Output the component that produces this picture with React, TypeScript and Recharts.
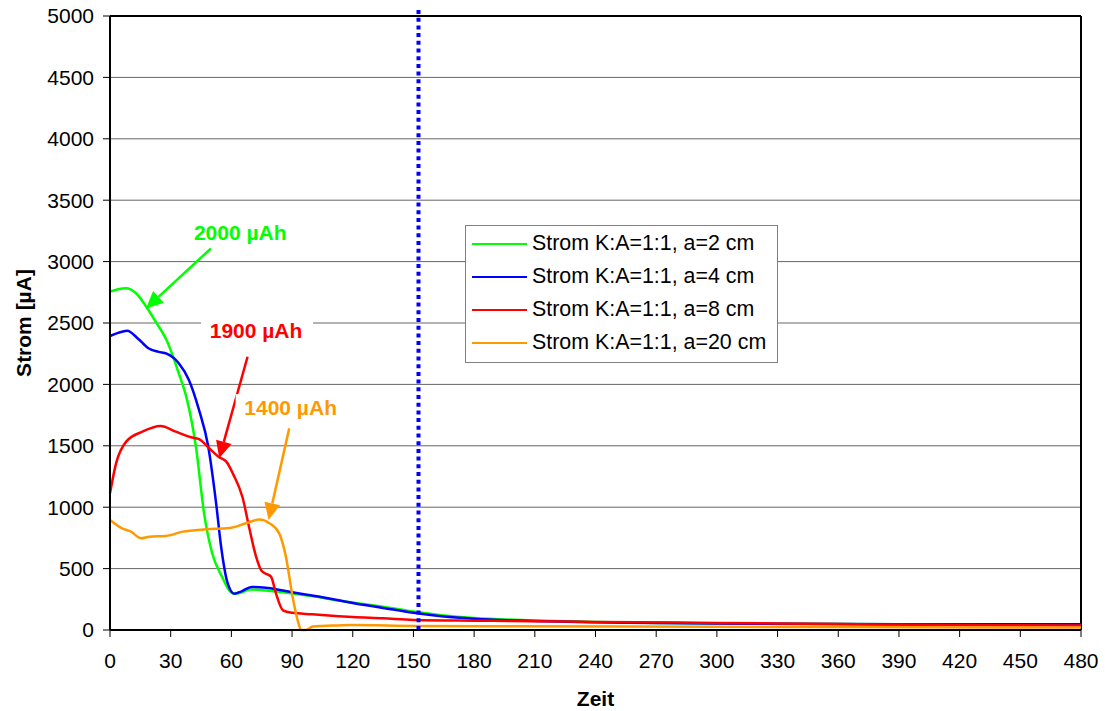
import React from "react";
import {
    LineChart,
    Line,
    XAxis,
    YAxis,
    CartesianGrid,
    Legend,
    ReferenceLine,
    ReferenceDot,
} from "recharts";

const FONT = "'Liberation Sans', Arial, Helvetica, sans-serif";

// Achsen
const xTicks = [0, 30, 60, 90, 120, 150, 180, 210, 240, 270, 300, 330, 360, 390, 420, 450, 480];
const yTicks = [0, 500, 1000, 1500, 2000, 2500, 3000, 3500, 4000, 4500, 5000];

// a = 2 cm
const gruenZeit = [0, 4, 8, 13, 18, 23, 28, 34, 38, 42.5, 46.5, 50.5, 55.5, 59, 61.5, 65, 69, 77, 90, 103, 113, 120, 135, 150, 165, 180, 210, 240, 270, 300, 360, 420, 480];
const gruenStrom = [2755, 2775, 2783, 2740, 2630, 2500, 2360, 2090, 1880, 1490, 950, 625, 430, 322, 295, 305, 330, 322, 298, 268, 240, 225, 190, 150, 118, 98, 78, 65, 58, 52, 48, 46, 45];

// a = 4 cm
const blauZeit = [0, 4, 8.5, 14, 19, 24, 28, 34, 39, 44, 48.5, 52.4, 55, 58, 61.5, 65, 70, 77, 84, 90, 103, 113, 120, 135, 150, 165, 180, 210, 240, 270, 300, 360, 420, 480];
const blauStrom = [2394, 2420, 2437, 2370, 2294, 2265, 2250, 2172, 2036, 1792, 1500, 1040, 670, 390, 295, 315, 350, 344, 326, 308, 272, 242, 220, 180, 140, 110, 92, 73, 63, 57, 52, 48, 47, 46];

// a = 8 cm
const rotZeit = [0, 3, 8, 16, 25, 32.5, 40, 44, 49, 54, 57.5, 61, 65.5, 69, 72, 75, 77.5, 79.6, 82, 85.5, 90, 100, 113, 120, 135, 150, 180, 210, 240, 300, 360, 420, 480];
const rotStrom = [1113, 1357, 1534, 1615, 1661, 1615, 1569, 1555, 1480, 1407, 1371, 1265, 1081, 820, 610, 480, 455, 435, 300, 160, 140, 128, 112, 105, 95, 82, 76, 72, 66, 58, 48, 40, 37];

// a = 20 cm
const orangeZeit = [0, 6, 10.4, 15.3, 19.4, 27.7, 35.9, 47.5, 59, 67.2, 73.8, 78.8, 83.7, 87, 90.3, 92.8, 94.5, 97, 100.2, 113, 120, 150, 200, 300, 400, 480];
const orangeStrom = [896, 828, 801, 747, 760, 766, 801, 820, 830, 869, 900, 870, 785, 593, 267, 77, 0, 0, 28, 37, 40, 33, 30, 26, 22, 20];

const serien = [
    { name: "Strom K:A=1:1, a=2 cm", color: "#00FF00", zeit: gruenZeit, strom: gruenStrom },
    { name: "Strom K:A=1:1, a=4 cm", color: "#0000FF", zeit: blauZeit, strom: blauStrom },
    { name: "Strom K:A=1:1, a=8 cm", color: "#FF0000", zeit: rotZeit, strom: rotStrom },
    { name: "Strom K:A=1:1, a=20 cm", color: "#FF9900", zeit: orangeZeit, strom: orangeStrom },
];

const markerZeit = 152.5;

// Beschriftungen mit Pfeil (Zeit, Strom)
const hinweise = [
    { text: "2000 µAh", color: "#00FF00", label: [64.4, 3175], from: [49.9, 3107], to: [17.8, 2619] },
    { text: "1900 µAh", color: "#FF0000", label: [72.2, 2377], from: [68, 2225], to: [54, 1398] },
    { text: "1400 µAh", color: "#FF9900", label: [89.3, 1750], from: [88.6, 1642], to: [78.4, 896] },
];

function Pfeil(props: any) {
    const { x1, y1, x2, y2, stroke } = props;
    const a = Math.atan2(y2 - y1, x2 - x1);
    const len = 17;
    const half = 8;
    const bx = x2 - len * Math.cos(a);
    const by = y2 - len * Math.sin(a);
    const px = -Math.sin(a) * half;
    const py = Math.cos(a) * half;
    return (
        <g>
            <line x1={x1} y1={y1} x2={bx} y2={by} stroke={stroke} strokeWidth={2.5} />
            <polygon points={`${x2},${y2} ${bx + px},${by + py} ${bx - px},${by - py}`} fill={stroke} />
        </g>
    );
}

function Markierung(props: any) {
    const { x1, y1, x2, y2 } = props;
    return (
        <line
            x1={x1}
            y1={Math.min(y1, y2) - 6}
            x2={x2}
            y2={Math.max(y1, y2)}
            stroke="#0000FF"
            strokeWidth={4}
            strokeDasharray="4 3.7"
        />
    );
}

function Legende() {
    return (
        <div
            style={{
                boxSizing: "border-box",
                width: 313,
                border: "1px solid #808080",
                background: "#fff",
                padding: "1px 8px 3px 6px",
                fontFamily: FONT,
                fontSize: 21.4,
                color: "#000",
            }}
        >
            {serien.map((s) => (
                <div key={s.name} style={{ display: "flex", alignItems: "center", height: 33, whiteSpace: "nowrap" }}>
                    <span style={{ display: "inline-block", width: 55, height: 2, background: s.color, marginRight: 5 }} />
                    {s.name}
                </div>
            ))}
        </div>
    );
}

export default function App() {
    return (
        <div style={{ position: "absolute", left: 0, top: 0, background: "#fff" }}>
            <LineChart width={1105} height={711} margin={{ top: 16, right: 24, bottom: 0, left: 0 }}>
                <CartesianGrid vertical={false} stroke="#666666" strokeWidth={1} />
                <XAxis
                    type="number"
                    dataKey="t"
                    domain={[0, 480]}
                    ticks={xTicks}
                    interval={0}
                    height={81}
                    tickSize={7}
                    tickMargin={16}
                    axisLine={{ stroke: "#000", strokeWidth: 2 }}
                    tickLine={{ stroke: "#000" }}
                    tick={{ fill: "#000", fontSize: 21, fontFamily: FONT }}
                    label={{
                        content: (p: any) => {
                            const vb = p.viewBox || { x: 110, y: 630, width: 971, height: 81 };
                            return (
                                <text
                                    x={vb.x + vb.width / 2}
                                    y={vb.y + vb.height - 5}
                                    textAnchor="middle"
                                    fontFamily={FONT}
                                    fontSize={21}
                                    fontWeight="bold"
                                    fill="#000"
                                >
                                    Zeit
                                </text>
                            );
                        },
                    }}
                />
                <YAxis
                    type="number"
                    domain={[0, 5000]}
                    ticks={yTicks}
                    interval={0}
                    width={110}
                    tickSize={7}
                    tickMargin={9}
                    axisLine={{ stroke: "#000", strokeWidth: 2 }}
                    tickLine={{ stroke: "#000" }}
                    tick={{ fill: "#000", fontSize: 21, fontFamily: FONT }}
                    label={{
                        content: (p: any) => {
                            const vb = p.viewBox || { x: 0, y: 16, width: 110, height: 614 };
                            const cx = vb.x + 23;
                            const cy = vb.y + vb.height / 2;
                            return (
                                <text
                                    x={cx}
                                    y={cy}
                                    transform={`rotate(-90, ${cx}, ${cy})`}
                                    textAnchor="middle"
                                    dominantBaseline="central"
                                    fontFamily={FONT}
                                    fontSize={21}
                                    fontWeight="bold"
                                    fill="#000"
                                >
                                    Strom [µA]
                                </text>
                            );
                        },
                    }}
                />
                <ReferenceLine y={5000} stroke="#000" strokeWidth={2} />
                <ReferenceLine x={480} stroke="#000" strokeWidth={2} />
                {serien.map((s) => (
                    <Line
                        key={s.name}
                        name={s.name}
                        data={s.zeit.map((t, i) => ({ t, v: s.strom[i] }))}
                        dataKey="v"
                        type="monotone"
                        stroke={s.color}
                        strokeWidth={2.5}
                        dot={false}
                        activeDot={false}
                        isAnimationActive={false}
                    />
                ))}
                <ReferenceLine x={markerZeit} shape={<Markierung />} />
                {hinweise.map((h) => (
                    <ReferenceLine
                        key={h.text + "-pfeil"}
                        segment={[
                            { x: h.from[0], y: h.from[1] },
                            { x: h.to[0], y: h.to[1] },
                        ]}
                        stroke={h.color}
                        shape={(p: any) => <Pfeil {...p} stroke={h.color} />}
                    />
                ))}
                {hinweise.map((h) => (
                    <ReferenceDot
                        key={h.text}
                        x={h.label[0]}
                        y={h.label[1]}
                        r={0}
                        shape={(p: any) => (
                            <g>
                                <rect x={p.cx - 55} y={p.cy - 21} width={112} height={27} fill="#fff" />
                                <text
                                    x={p.cx}
                                    y={p.cy}
                                    textAnchor="middle"
                                    fill={h.color}
                                    fontFamily={FONT}
                                    fontSize={21}
                                    fontWeight="bold"
                                >
                                    {h.text}
                                </text>
                            </g>
                        )}
                    />
                ))}
                <Legend
                    layout="vertical"
                    align="center"
                    verticalAlign="middle"
                    wrapperStyle={{ position: "absolute", left: 465, top: 225, width: 313, height: "auto" }}
                    content={() => <Legende />}
                />
            </LineChart>
        </div>
    );
}
